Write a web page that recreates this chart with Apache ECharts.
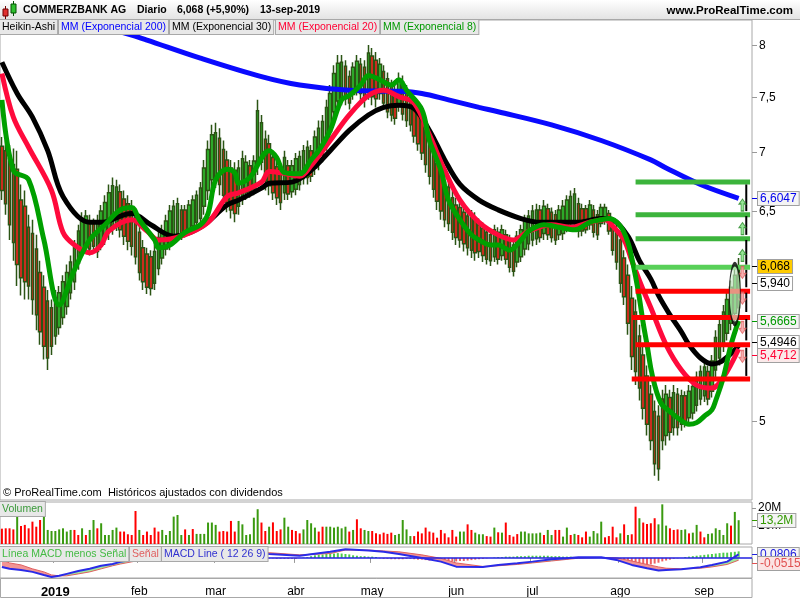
<!DOCTYPE html>
<html><head><meta charset="utf-8">
<script src="https://cdn.jsdelivr.net/npm/echarts@6/dist/echarts.min.js"></script>
<style>html,body{margin:0;padding:0;background:#fff}#c{width:800px;height:600px}</style>
</head><body><div id="c"></div>
<script>
// ---------- categories ----------
const tradingHolidays = ['2018-12-24','2018-12-25','2018-12-26','2018-12-31','2019-01-01','2019-04-19','2019-04-22','2019-05-01'];
const totalSlots = 197;
const monthLabels = ['2019','feb','mar','abr','may','jun','jul','ago','sep','oct','nov','dic'];
const sessions = (function(){
  const out = []; const d = new Date(Date.UTC(2018, 11, 6));
  while (out.length < totalSlots) {
    const wd = d.getUTCDay(); const s = d.toISOString().slice(0,10);
    if (wd !== 0 && wd !== 6 && tradingHolidays.indexOf(s) < 0) out.push(s);
    d.setUTCDate(d.getUTCDate() + 1);
  }
  return out;
})();
const isMonthStart = sessions.map((s,i) => i > 0 && s.slice(5,7) !== sessions[i-1].slice(5,7));

// ---------- Heikin-Ashi candles [open, close, low, high] ----------
const haCandles = [
[7.05,6.67,6.59,7.13],[7.01,6.56,6.47,7.10],[6.94,6.39,6.27,7.06],[6.89,6.25,6.11,7.03],[6.85,6.08,5.92,7.01],
[6.59,5.98,5.85,6.72],[6.54,5.95,5.82,6.67],[6.37,5.92,5.82,6.47],[6.32,5.82,5.71,6.43],[6.20,5.71,5.60,6.31],
[6.02,5.59,5.50,6.11],[5.91,5.49,5.40,6.00],[5.81,5.41,5.33,5.89],[5.76,5.49,5.43,5.82],[5.56,5.83,5.50,5.89],
[5.62,5.87,5.57,5.92],[5.69,5.95,5.64,6.00],[5.77,6.02,5.71,6.08],[5.87,6.10,5.82,6.15],[5.95,6.21,5.89,6.27],
[6.09,6.34,6.04,6.39],[6.20,6.44,6.15,6.49],[6.24,6.46,6.19,6.51],[6.42,6.20,6.15,6.47],[6.40,6.22,6.18,6.44],
[6.18,6.42,6.13,6.47],[6.24,6.50,6.19,6.55],[6.29,6.57,6.23,6.63],[6.34,6.65,6.27,6.72],[6.38,6.71,6.31,6.78],
[6.40,6.70,6.34,6.76],[6.66,6.35,6.29,6.72],[6.60,6.30,6.23,6.67],[6.56,6.26,6.19,6.63],[6.52,6.22,6.15,6.59],
[6.45,6.14,6.08,6.51],[6.33,6.02,5.96,6.39],[6.21,5.95,5.89,6.27],[6.16,5.91,5.86,6.21],[6.14,5.90,5.85,6.19],
[5.94,6.18,5.89,6.23],[6.05,6.29,6.00,6.34],[6.13,6.34,6.08,6.39],[6.20,6.42,6.15,6.47],[6.24,6.50,6.19,6.55],
[6.28,6.54,6.23,6.59],[6.32,6.56,6.27,6.61],[6.51,6.31,6.27,6.55],[6.51,6.33,6.29,6.55],[6.35,6.55,6.31,6.59],
[6.38,6.59,6.34,6.63],[6.41,6.63,6.37,6.67],[6.44,6.69,6.39,6.74],[6.54,6.86,6.47,6.93],[6.67,7.02,6.59,7.10],
[6.76,7.15,6.67,7.24],[6.78,7.17,6.69,7.26],[7.12,6.72,6.63,7.21],[7.02,6.63,6.55,7.10],[6.93,6.57,6.49,7.01],
[6.86,6.51,6.44,6.93],[6.84,6.48,6.41,6.91],[6.54,6.86,6.47,6.93],[6.62,6.94,6.55,7.01],[6.65,6.91,6.59,6.97],
[6.88,6.66,6.61,6.93],[6.68,6.92,6.63,6.97],[6.90,7.37,6.80,7.47],[6.91,7.26,6.84,7.33],[7.11,6.75,6.67,7.19],
[7.07,6.71,6.63,7.15],[6.95,6.65,6.59,7.01],[6.87,6.61,6.55,6.93],[6.82,6.57,6.51,6.88],[6.65,6.95,6.59,7.01],
[6.88,6.64,6.59,6.93],[6.66,6.88,6.61,6.93],[6.68,6.94,6.63,6.99],[6.72,6.96,6.67,7.01],[6.77,7.01,6.72,7.06],
[6.78,7.04,6.72,7.10],[7.01,6.79,6.74,7.06],[6.86,7.13,6.80,7.19],[6.91,7.21,6.84,7.28],[6.97,7.27,6.91,7.33],
[7.08,7.40,7.01,7.47],[7.18,7.53,7.10,7.61],[7.36,7.72,7.28,7.80],[7.46,7.82,7.38,7.90],[7.49,7.83,7.42,7.90],
[7.79,7.48,7.42,7.85],[7.69,7.44,7.38,7.75],[7.52,7.78,7.47,7.83],[7.57,7.84,7.51,7.90],[7.81,7.53,7.47,7.87],
[7.78,7.47,7.40,7.85],[7.55,7.92,7.47,8.00],[7.89,7.50,7.42,7.97],[7.85,7.48,7.40,7.93],[7.53,7.81,7.47,7.87],
[7.74,7.44,7.38,7.80],[7.67,7.36,7.30,7.73],[7.60,7.33,7.27,7.66],[7.55,7.30,7.24,7.61],[7.42,7.67,7.36,7.73],
[7.64,7.34,7.28,7.70],[7.55,7.28,7.22,7.61],[7.50,7.24,7.18,7.56],[7.41,7.14,7.08,7.47],[7.36,7.07,7.01,7.42],
[7.30,6.99,6.93,7.36],[7.21,6.89,6.82,7.28],[7.12,6.79,6.72,7.19],[6.99,6.68,6.61,7.06],[6.90,6.58,6.51,6.97],
[6.81,6.50,6.43,6.88],[6.74,6.43,6.37,6.80],[6.70,6.40,6.34,6.76],[6.61,6.33,6.27,6.67],[6.55,6.29,6.23,6.61],
[6.53,6.27,6.21,6.59],[6.49,6.24,6.18,6.55],[6.46,6.21,6.15,6.52],[6.45,6.19,6.13,6.51],[6.43,6.17,6.11,6.49],
[6.39,6.18,6.13,6.44],[6.36,6.15,6.10,6.41],[6.33,6.12,6.08,6.37],[6.31,6.11,6.07,6.35],[6.14,6.35,6.10,6.39],
[6.33,6.12,6.08,6.37],[6.15,6.35,6.11,6.39],[6.31,6.12,6.08,6.35],[6.27,6.06,6.02,6.31],[6.23,6.03,5.99,6.27],
[6.10,6.30,6.06,6.34],[6.14,6.35,6.10,6.39],[6.20,6.42,6.15,6.47],[6.24,6.46,6.19,6.51],[6.27,6.50,6.22,6.55],
[6.28,6.51,6.23,6.56],[6.51,6.29,6.25,6.55],[6.32,6.54,6.27,6.59],[6.52,6.31,6.27,6.56],[6.49,6.29,6.25,6.53],
[6.47,6.27,6.23,6.51],[6.31,6.51,6.27,6.55],[6.32,6.54,6.27,6.59],[6.38,6.59,6.33,6.63],[6.40,6.62,6.35,6.67],
[6.42,6.64,6.37,6.69],[6.56,6.34,6.29,6.61],[6.52,6.34,6.30,6.56],[6.52,6.35,6.32,6.55],[6.39,6.55,6.35,6.59],
[6.51,6.33,6.29,6.55],[6.47,6.31,6.27,6.51],[6.40,6.53,6.37,6.56],[6.42,6.53,6.39,6.56],[6.48,6.34,6.31,6.51],
[6.40,6.19,6.15,6.44],[6.35,6.10,6.04,6.41],[6.27,5.94,5.87,6.34],[6.13,5.84,5.78,6.19],[6.00,5.65,5.57,6.08],
[5.83,5.42,5.33,5.92],[5.73,5.32,5.23,5.82],[5.56,5.21,5.13,5.64],[5.43,5.08,5.01,5.50],[5.29,4.98,4.91,5.36],
[5.17,4.88,4.82,5.23],[5.06,4.74,4.67,5.13],[5.03,4.71,4.64,5.10],[5.14,4.88,4.82,5.20],[4.91,5.17,4.85,5.23],
[5.15,4.93,4.88,5.20],[4.96,5.18,4.91,5.23],[5.17,4.96,4.91,5.21],[4.98,5.16,4.94,5.20],[5.16,4.99,4.96,5.19],
[5.02,5.19,4.98,5.23],[5.05,5.22,5.01,5.26],[5.10,5.28,5.06,5.32],[5.14,5.32,5.10,5.36],[5.16,5.35,5.12,5.39],
[5.32,5.14,5.10,5.36],[5.19,5.39,5.15,5.43],[5.33,5.55,5.28,5.60],[5.41,5.64,5.36,5.69],[5.50,5.73,5.45,5.78],
[5.58,5.82,5.53,5.87],[5.65,5.91,5.60,5.96],[5.72,6.00,5.66,6.06],[5.76,6.07,5.69,6.13]
];

// ---------- moving averages [session index, value] ----------
const ema200 = [[25,8.20],[34,8.10],[38,8.05],[52,7.87],[68,7.69],[78,7.61],[91,7.56],[104,7.55],[110,7.53],[117,7.47],[125,7.40],[130,7.36],[144,7.24],[157,7.10],[170,6.93],[174,6.86],[183,6.72],[193,6.6047]];
const ema30 = [[0,7.83],[4,7.53],[8,7.31],[12,7.01],[16,6.62],[23,6.41],[26,6.41],[32,6.47],[34,6.48],[39,6.39],[45,6.30],[52,6.37],[59,6.55],[62,6.59],[68,6.69],[70,6.73],[76,6.74],[81,6.84],[86,7.01],[91,7.19],[96,7.33],[100,7.40],[104,7.42],[108,7.39],[112,7.19],[116,6.93],[120,6.72],[125,6.59],[130,6.51],[136,6.44],[141,6.41],[146,6.41],[151,6.41],[157,6.44],[160,6.43],[164,6.30],[167,6.11],[170,5.97],[172,5.85],[175,5.71],[178,5.59],[180,5.50],[183,5.41],[186,5.37],[188,5.38],[191,5.44],[193,5.4946]];
const ema20 = [[0,7.72],[3,7.31],[7,7.04],[13,6.67],[16,6.33],[19,6.23],[23,6.17],[26,6.23],[28,6.34],[34,6.43],[38,6.34],[41,6.27],[47,6.30],[54,6.41],[59,6.62],[62,6.65],[68,6.74],[70,6.83],[73,6.82],[78,6.79],[81,6.88],[86,7.10],[91,7.33],[96,7.51],[100,7.56],[104,7.50],[108,7.44],[112,7.15],[116,6.84],[120,6.59],[125,6.41],[130,6.31],[134,6.27],[138,6.34],[144,6.39],[149,6.37],[154,6.41],[158,6.43],[160,6.38],[163,6.27],[165,6.11],[168,5.89],[170,5.76],[174,5.50],[178,5.33],[182,5.23],[186,5.21],[189,5.28],[193,5.4712]];
const ema8 = [[0,7.47],[3,6.84],[7,6.76],[11,6.27],[15,5.78],[19,6.04],[23,6.27],[27,6.39],[31,6.51],[34,6.53],[36,6.43],[40,6.27],[41,6.21],[44,6.23],[48,6.33],[52,6.39],[54,6.48],[56,6.76],[59,6.85],[61,6.82],[62,6.73],[65,6.78],[70,7.01],[72,6.95],[74,6.82],[78,6.81],[81,6.93],[83,7.01],[86,7.19],[89,7.47],[91,7.51],[94,7.61],[96,7.70],[99,7.66],[102,7.61],[104,7.66],[106,7.56],[110,7.38],[112,7.10],[115,6.84],[117,6.59],[120,6.43],[123,6.31],[125,6.27],[128,6.23],[130,6.23],[133,6.19],[136,6.27],[138,6.34],[142,6.39],[146,6.37],[150,6.35],[154,6.41],[157,6.43],[159,6.44],[162,6.38],[164,6.25],[165,6.13],[166,5.99],[167,5.83],[168,5.65],[169,5.50],[170,5.34],[171,5.23],[172,5.15],[173,5.10],[175,5.06],[177,5.02],[180,4.98],[182,4.99],[184,5.03],[186,5.07],[187,5.13],[189,5.28],[191,5.50],[193,5.6665]];

// ---------- drawn levels ----------
const greenLevels = [6.74, 6.47, 6.28];
const lightGreenLevels = [6.06];
const redLevels = [5.88, 5.69, 5.50, 5.27];
const redLevelStart = [166, 165, 166, 165];
const levelStart = 166, levelEnd = 196;
const arrowSpans = [[6.72,6.50],[6.46,6.31],[6.27,6.08],[6.04,5.91],[5.87,5.73],[5.68,5.53],[5.48,5.29]];
const upArrowPrices = [6.55, 6.36, 6.15];
const downArrowPrices = [6.02, 5.83, 5.62, 5.42];
const highlight = [192, 5.86];

// ---------- volume (millions), 1 = up, 0 = down ----------
const volume = [
8.5,8.7,8.7,8.1,15.2,10.0,10.6,8.7,12.4,9.6,
13.3,15.2,7.8,7.2,7.2,8.1,8.7,6.9,7.8,7.8,
5.0,8.7,5.0,7.8,13.3,8.7,11.5,5.0,5.0,7.8,
9.1,6.9,6.9,5.4,5.0,18.3,7.8,5.0,6.9,5.0,
9.1,6.9,7.8,5.0,7.2,15.2,16.1,5.0,8.1,5.0,
8.3,5.6,5.6,5.6,11.9,11.9,10.6,6.9,7.2,6.9,
12.8,6.9,12.8,10.9,5.0,5.4,14.6,19.3,11.9,7.2,
9.6,12.0,7.2,8.1,14.6,9.6,7.8,7.2,5.9,8.1,
13.3,11.5,9.1,6.9,9.6,9.6,9.6,9.1,9.6,8.7,
9.6,6.9,7.8,13.7,8.7,7.8,7.2,7.2,5.9,5.4,
6.3,5.6,6.3,5.0,5.6,
13.3,8.1,4.4,4.4,6.9,5.9,9.1,6.9,6.3,3.5,
7.8,5.9,3.7,7.8,4.1,6.9,6.9,10.9,7.8,6.3,
5.4,5.4,4.4,4.1,9.1,6.5,6.3,11.9,5.0,4.1,5.5,
6.9,6.9,5.9,5.9,5.9,6.3,5.0,7.8,5.0,7.8,
7.8,4.1,9.1,5.0,5.6,5.0,3.7,6.9,4.1,7.2,
5.9,12.4,3.7,4.4,9.6,3.7,5.9,10.9,5.0,5.4,
20.7,14.3,11.9,11.1,11.5,14.3,10.9,22.0,10.2,8.7,
7.8,8.1,7.8,8.1,5.9,6.3,10.6,6.9,3.7,5.6,
5.9,8.7,7.8,5.0,11.5,10.2,17.8,13.2
];
const volumeUp = [
0,0,0,0,1,0,0,0,0,0,
0,1,1,1,1,1,1,1,1,0,
0,1,0,1,1,0,1,1,1,1,
1,0,0,0,0,0,1,0,0,0,
0,0,1,1,1,1,1,1,0,1,
0,1,1,1,1,1,1,0,0,0,
0,0,1,1,1,1,1,1,0,0,
1,0,0,0,1,1,0,0,0,1,
1,1,1,0,0,1,1,1,1,1,
1,0,1,0,0,1,1,0,0,0,
0,0,0,1,1,
1,1,1,0,0,0,0,0,0,0,
0,0,0,0,0,1,1,0,0,1,
1,1,0,0,1,0,1,0,0,0,0,
1,1,1,1,1,1,0,1,1,0,
0,1,1,0,1,0,0,0,1,1,
1,1,0,0,0,0,1,0,1,0,
0,1,0,0,0,0,1,1,1,0,
0,0,1,1,0,1,1,0,0,1,
1,1,1,1,1,0,1,1
];

// ---------- MACD ----------
const macdIdx = [0,2,5,8,11,13,15,17,20,23,26,29,31,34,38,42,46,50,54,58,62,66,70,78,86,90,96,100,104,110,115,119,126,130,135,139,144,148,151,157,161,165,169,172,174,178,183,186,190,193];
const macdLine = [-0.206,-0.25,-0.275,-0.32,-0.39,-0.435,-0.41,-0.366,-0.30,-0.25,-0.18,-0.14,-0.09,-0.05,0.02,0.05,0.02,0.05,0.11,0.16,0.16,0.14,0.09,0.05,0.14,0.20,0.17,0.14,0.09,0.0,-0.085,-0.20,-0.21,-0.16,-0.12,-0.085,-0.03,-0.007,0.016,0.016,-0.046,-0.16,-0.236,-0.29,-0.275,-0.26,-0.213,-0.16,-0.085,0.0806];
const macdSignal = [-0.046,-0.115,-0.16,-0.25,-0.32,-0.39,-0.41,-0.41,-0.366,-0.32,-0.25,-0.18,-0.14,-0.09,-0.02,0.02,0.02,0.02,0.07,0.11,0.14,0.14,0.12,0.07,0.10,0.18,0.18,0.16,0.14,0.07,-0.01,-0.115,-0.195,-0.18,-0.15,-0.115,-0.07,-0.034,-0.007,0.01,0.0,-0.07,-0.15,-0.206,-0.236,-0.25,-0.236,-0.206,-0.15,-0.0515];
const macdHist = [
-0.07,-0.08,-0.08,-0.09,-0.09,-0.09,-0.08,-0.08,-0.07,-0.07,-0.06,-0.05,-0.04,-0.02,
0,0.02,0.03,0.05,0.06,0.07,0.08,0.09,0.09,0.09,0.09,0.09,0.08,0.08,0.07,0.07,0.06,0.05,0.04,0.03,0.03,0.02,
-0.01,-0.02,-0.02,-0.03,-0.02,-0.02,-0.01,0,0.01,0.01,
0.01,0.01,0.02,0.02,0.03,0.03,0.04,0.05,0.06,0.06,0.05,0.05,0.04,0.03,0.02,
0.01,0,-0.01,-0.01,-0.01,0,0.01,0.01,0,
-0.01,-0.01,-0.02,-0.02,-0.02,-0.02,-0.02,-0.02,
0,0.01,0.02,
0.04,0.06,0.07,0.08,0.09,0.1,0.1,0.11,0.1,0.09,0.08,
0.06,0.05,0.04,0.04,0.03,0.03,0.02,
-0.01,-0.02,-0.02,-0.03,-0.03,
-0.03,-0.03,-0.02,-0.02,-0.03,-0.04,-0.04,-0.05,-0.06,-0.06,-0.07,-0.07,-0.08,-0.08,-0.08,-0.08,-0.07,-0.07,-0.06,-0.05,-0.04,-0.03,-0.02,-0.01,0,
0.01,
0.02,0.02,0.03,0.03,0.03,0.04,0.04,0.04,0.05,0.05,0.05,0.05,0.05,0.05,0.04,0.04,0.04,0.03,0.03,0.03,0.02,0.02,
0.01,0.01,0.01,0,0,0,0,-0.01,-0.02,
-0.03,-0.06,-0.08,-0.1,-0.12,-0.14,-0.16,-0.18,-0.17,-0.15,-0.13,-0.11,-0.08,-0.06,-0.04,-0.02,-0.01,0,0.02,0.03,0.04,0.05,0.06,0.07,0.08,0.09,0.1,0.11,0.12,0.12,0.13,0.14,0.15
];

// ---------- axis ticks / badges ----------
const priceTicks = [8, 7.5, 7, 6.5, 5];
const priceMin = 4.53, priceMax = 8.254;
const priceBadges = [
  {v:6.6047, t:'6,6047', c:'#0000ee', bg:'#f4f4f4', dy:0},
  {v:6.068,  t:'6,068',  c:'#000000', bg:'#ffcc00', dy:0},
  {v:5.940,  t:'5,940',  c:'#000000', bg:'#ffffff', dy:0},
  {v:5.6665, t:'5,6665', c:'#009900', bg:'#f4f4f4', dy:0},
  {v:5.4946, t:'5,4946', c:'#000000', bg:'#ffffff', dy:-4},
  {v:5.4712, t:'5,4712', c:'#ff0033', bg:'#fbeaea', dy:6}
];
const volumeBadge = 13.2;
const macdBadges = [{v:0.0806, t:'0,0806', c:'#2020dd', bg:'#f4f4f4', dy:0},{v:-0.0515, t:'-0,0515', c:'#e05050', bg:'#fbe3e3', dy:3}];

const FONT = '"Liberation Sans", Arial, sans-serif';
const chart = echarts.init(document.getElementById('c'));

const grids = [
  {left:0, right:48, top:20, height:480, show:true, borderColor:'#a8a8a8', borderWidth:1},
  {left:0, right:48, top:502, height:42, show:true, borderColor:'#a8a8a8', borderWidth:1},
  {left:0, right:48, top:547, height:31, show:true, borderColor:'#a8a8a8', borderWidth:1}
];
const hiddenX = g => ({type:'category', gridIndex:g, data:sessions, boundaryGap:true, axisLine:{show:false}, axisTick:{show:false}, axisLabel:{show:false}, splitLine:{show:false}});
const xAxes = [hiddenX(0), hiddenX(1), {
  type:'category', gridIndex:2, data:sessions, boundaryGap:true, axisLine:{show:false},
  axisTick:{show:true, length:5, interval:(i)=>isMonthStart[i], lineStyle:{color:'#999'}},
  axisLabel:{show:true, interval:(i)=>isMonthStart[i], margin:8, fontSize:12, color:'#000', fontFamily:FONT,
    formatter:(val)=>{ const m = +val.slice(5,7)-1; return m===0 ? '{y|'+monthLabels[0]+'}' : monthLabels[m]; },
    rich:{y:{fontWeight:'bold', fontSize:13, fontFamily:FONT, color:'#000'}}},
  splitLine:{show:false}
}];
const yAxes = [
  {type:'log', gridIndex:0, position:'right', min:priceMin, max:priceMax, axisLine:{show:false}, axisTick:{show:false}, axisLabel:{show:false}, splitLine:{show:false}},
  {type:'value', gridIndex:1, position:'right', min:0, max:23.3, axisLine:{show:false},
    axisTick:{show:true, length:4, customValues:[10,20], lineStyle:{color:'#999'}},
    axisLabel:{customValues:[10,20], formatter:v=>v+'M', fontSize:12, color:'#000', margin:6, fontFamily:FONT}, splitLine:{show:false}},
  {type:'value', gridIndex:2, position:'right', min:-0.46, max:0.25, axisLine:{show:false}, axisTick:{show:false}, axisLabel:{show:false}, splitLine:{show:false}}
];

const series = [];
series.push({type:'candlestick', xAxisIndex:0, yAxisIndex:0, data:haCandles, barWidth:3, z:2,
  itemStyle:{color:'#2fc42f', color0:'#ff2020', borderColor:'#2b5414', borderColor0:'#2b5414', borderWidth:1.5}});
const emaLine = (d, color, z) => ({type:'line', xAxisIndex:0, yAxisIndex:0, data:d, showSymbol:false, smooth:0.35, z:z,
  lineStyle:{color:color, width:5}, silent:true});
series.push(emaLine(ema200, '#0a0aff', 3));
series.push(emaLine(ema30, '#000000', 4));
series.push(emaLine(ema20, '#ff0a3c', 5));
series.push(emaLine(ema8, '#00a000', 6));
const levelLine = (v, s, color) => ({type:'line', xAxisIndex:0, yAxisIndex:0, data:[[s, v],[levelEnd, v]], showSymbol:false, z:7, silent:true, lineStyle:{color:color, width:5, cap:'butt'}});
greenLevels.forEach(v => series.push(levelLine(v, levelStart, '#3cb43c')));
lightGreenLevels.forEach(v => series.push(levelLine(v, levelStart, '#58d058')));
redLevels.forEach((v,k) => series.push(levelLine(v, redLevelStart[k], '#ff0000')));
arrowSpans.forEach(([a,b]) => series.push({type:'line', xAxisIndex:0, yAxisIndex:0, z:8, silent:true,
  data:[{value:[195,a], symbolRotate:0},{value:[195,b], symbolRotate:180}], symbol:'arrow', symbolSize:[8,9], showSymbol:true,
  lineStyle:{color:'#000', width:2}, itemStyle:{color:'#000'}}));
const blockArrow = 'path://M5,0 L10,5 L7,5 L7,12 L3,12 L3,5 L0,5 Z';
series.push({type:'scatter', xAxisIndex:0, yAxisIndex:0, z:8, silent:true, symbol:blockArrow, symbolSize:[7,12],
  data:upArrowPrices.map(p=>[194,p]), itemStyle:{color:'#7de07d', borderColor:'#2a8a2a', borderWidth:1}});
series.push({type:'scatter', xAxisIndex:0, yAxisIndex:0, z:8, silent:true, symbol:blockArrow, symbolSize:[7,12], symbolRotate:180,
  data:downArrowPrices.map(p=>[194,p]), itemStyle:{color:'#f39a9a', borderColor:'#e06060', borderWidth:1}});
series.push({type:'scatter', xAxisIndex:0, yAxisIndex:0, z:9, silent:true, symbol:'circle', symbolSize:[11,60],
  data:[highlight], itemStyle:{color:'rgba(215,245,215,0.75)', borderColor:'#000', borderWidth:2}});

series.push({type:'bar', xAxisIndex:1, yAxisIndex:1, barWidth:2, silent:true,
  data:volume.map((v,i)=>({value:v, itemStyle:{color: volumeUp[i] ? '#3a9a10' : '#ff0000'}}))});

series.push({type:'bar', xAxisIndex:2, yAxisIndex:2, barWidth:2, silent:true, z:2,
  data:macdHist.map(v=>({value:v, itemStyle:{color: v >= 0 ? '#4ccc4c' : '#ee6060'}})),
  markLine:{silent:true, symbol:'none', label:{show:false}, lineStyle:{color:'#2020e0', width:1.5, type:'solid'}, data:[{yAxis:0}]}});
const mBase = macdIdx.map((x,k)=>[x, Math.min(macdLine[k], macdSignal[k])]);
const mRed = macdIdx.map((x,k)=>[x, Math.max(macdSignal[k]-macdLine[k], 0)]);
const mGreen = macdIdx.map((x,k)=>[x, Math.max(macdLine[k]-macdSignal[k], 0)]);
const stackPart = (d, area) => ({type:'line', xAxisIndex:2, yAxisIndex:2, data:d, stack:'macd', stackStrategy:'all', showSymbol:false, silent:true, z:3,
  lineStyle:{width:0, opacity:0}, areaStyle: area ? {color:area, opacity:1} : undefined});
series.push(stackPart(mBase, null));
series.push(stackPart(mRed, '#f29494'));
series.push(stackPart(mGreen, '#9de89d'));
series.push({type:'line', xAxisIndex:2, yAxisIndex:2, data:macdIdx.map((x,k)=>[x, macdSignal[k]]), showSymbol:false, silent:true, z:4, lineStyle:{color:'#e06060', width:1}});
series.push({type:'line', xAxisIndex:2, yAxisIndex:2, data:macdIdx.map((x,k)=>[x, macdLine[k]]), showSymbol:false, silent:true, z:5, lineStyle:{color:'#2a2ae8', width:2}});

chart.setOption({animation:false, backgroundColor:'#fff', grid:grids, xAxis:xAxes, yAxis:yAxes, series:series});

// ---------- graphics ----------
const els = [];
els.push({type:'rect', shape:{x:0,y:0,width:800,height:20}, style:{fill:{type:'linear',x:0,y:0,x2:0,y2:1,colorStops:[{offset:0,color:'#ffffff'},{offset:1,color:'#e2e2e2'}]}}, z:50});
els.push({type:'line', shape:{x1:0,y1:19.5,x2:800,y2:19.5}, style:{stroke:'#a8a8a8', lineWidth:1}, z:51});
els.push({type:'line', shape:{x1:5.5,y1:6,x2:5.5,y2:19}, style:{stroke:'#700000', lineWidth:1}, z:52});
els.push({type:'rect', shape:{x:3,y:9,width:5,height:7}, style:{fill:'#e03030', stroke:'#700000', lineWidth:1}, z:53});
els.push({type:'line', shape:{x1:13.5,y1:1,x2:13.5,y2:16}, style:{stroke:'#005000', lineWidth:1}, z:52});
els.push({type:'rect', shape:{x:11,y:4,width:5,height:9}, style:{fill:'#30c030', stroke:'#005000', lineWidth:1}, z:53});
const t = (x, y, text, font, fill, extra) => Object.assign({type:'text', x:x, y:y, z:60, style:Object.assign({text:text, font:font, fill:fill, verticalAlign:'middle'}, extra||{})});
els.push(t(23, 10, 'COMMERZBANK AG', 'bold 10.5px '+FONT, '#000'));
els.push(t(137, 10, 'Diario', 'bold 10.5px '+FONT, '#000'));
els.push(t(177, 10, '6,068 (+5,90%)', 'bold 10.5px '+FONT, '#000'));
els.push(t(260, 10, '13-sep-2019', 'bold 10.5px '+FONT, '#000'));
els.push(t(793, 11, 'www.ProRealTime.com', 'bold 11.5px '+FONT, '#000', {align:'right'}));
const boxStyle = {backgroundColor:'#e8e8e8', borderColor:'#a8a8a8', borderWidth:1, padding:[2,2,1,2], verticalAlign:'top'};
const box = (x, y, text, color) => t(x, y, text, '10.5px '+FONT, color, boxStyle);
els.push(box(0, 20, 'Heikin-Ashi', '#000'));
els.push(box(59, 20, 'MM (Exponencial 200)', '#0000ff'));
els.push(box(170, 20, 'MM (Exponencial 30)', '#000'));
els.push(box(276, 20, 'MM (Exponencial 20)', '#ff0033'));
els.push(box(381, 20, 'MM (Exponencial 8)', '#009900'));
els.push(t(3, 493, '\u00a9 ProRealTime.com  Hist\u00f3ricos ajustados con dividendos', '11px '+FONT, '#000'));
els.push(box(0, 502, 'Volumen', '#3a9a3a'));
els.push(box(0, 547, 'L\u00ednea MACD menos Se\u00f1al', '#44bb44'));
els.push(box(130, 547, 'Se\u00f1al', '#e06060'));
els.push(box(162, 547, 'MACD Line ( 12 26 9)', '#3030d0'));
els.push({type:'rect', shape:{x:0.5,y:578.5,width:751.5,height:19}, style:{fill:'none', stroke:'#a8a8a8', lineWidth:1}, z:1});

const py = v => chart.convertToPixel({yAxisIndex:0}, v);
priceTicks.forEach(v => {
  const y = Math.round(py(v)) + 0.5;
  els.push({type:'line', shape:{x1:752,y1:y,x2:757,y2:y}, style:{stroke:'#999', lineWidth:1}, z:55});
  els.push(t(759, y, String(v).replace('.', ','), '12px '+FONT, '#000'));
});
const badge = (y, text, color, bg) => {
  els.push({type:'line', shape:{x1:752,y1:y,x2:757,y2:y}, style:{stroke:color, lineWidth:1}, z:55});
  els.push(t(758, y, text, '12px '+FONT, color, {backgroundColor:bg, borderColor:'#a0a0a0', borderWidth:1, padding:[1,2,0,2]}));
};
priceBadges.forEach(b => badge(Math.round(py(b.v)) + b.dy + 0.5, b.t, b.c, b.bg));
const vy = chart.convertToPixel({yAxisIndex:1}, volumeBadge);
badge(Math.round(vy)+0.5, '13,2M', '#339900', '#f4f4f4');
macdBadges.forEach(b => badge(Math.round(chart.convertToPixel({yAxisIndex:2}, b.v)) + b.dy + 0.5, b.t, b.c, b.bg));

chart.setOption({graphic:{elements:els}});
</script></body></html>
